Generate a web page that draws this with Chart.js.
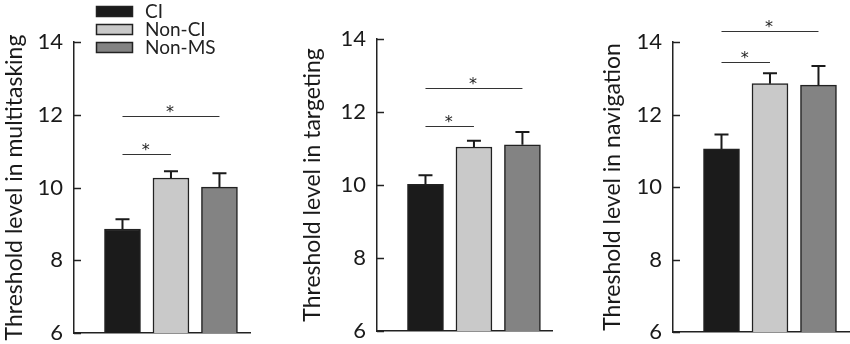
<!DOCTYPE html>
<html><head><meta charset="utf-8">
<script src="https://cdn.jsdelivr.net/npm/chart.js@4"></script>
<style>
html,body{margin:0;padding:0;background:#fff;}
#wrap{position:relative;width:850px;height:344px;overflow:hidden;background:#fff;}
canvas{position:absolute;top:0;}
</style></head><body>
<div id="wrap">
<canvas id="c1" width="290" height="344" style="left:0px"></canvas>
<canvas id="c2" width="280" height="344" style="left:290px"></canvas>
<canvas id="c3" width="280" height="344" style="left:570px"></canvas>
</div>
<script>
// ---- data ----
const groups = ['CI', 'Non-CI', 'Non-MS'];
const yTicks = [6, 8, 10, 12, 14];
const multitaskingMean = [8.86, 10.26, 10.01];
const multitaskingErr  = [0.27, 0.19, 0.38];
const targetingMean    = [10.02, 11.04, 11.10];
const targetingErr     = [0.25, 0.17, 0.35];
const navigationMean   = [11.05, 12.85, 12.81];
const navigationErr    = [0.40, 0.29, 0.53];
// significance brackets: [fromGroup, toGroup, level]
const multitaskingSig = [[0, 1, 10.92], [0, 2, 11.96]];
const targetingSig    = [[0, 1, 11.62], [0, 2, 12.66]];
const navigationSig   = [[0, 1, 13.45], [0, 2, 14.30]];

const barColors = ['#1b1b1b', '#c9c9c9', '#838383'];
const FONT = 'Lato, "Open Sans", sans-serif';

const extras = {
  id: 'extras',
  afterDatasetsDraw(chart, args, opts) {
    const ctx = chart.ctx;
    const xs = chart.scales.x, ys = chart.scales.y;
    const ca = chart.chartArea;
    ctx.save();
    // inward tick marks
    ctx.strokeStyle = '#222'; ctx.lineWidth = 1.5;
    yTicks.forEach(v => {
      const py = Math.round(ys.getPixelForValue(v)) + 0.5;
      ctx.beginPath(); ctx.moveTo(ca.left, py); ctx.lineTo(ca.left + 7, py); ctx.stroke();
    });
    // error bars
    ctx.strokeStyle = '#1a1a1a'; ctx.lineWidth = 2;
    opts.mean.forEach((m, i) => {
      const px = xs.getPixelForValue(i + 1);
      const y0 = ys.getPixelForValue(m);
      const y1 = ys.getPixelForValue(m + opts.err[i]);
      ctx.beginPath();
      ctx.moveTo(px, y0); ctx.lineTo(px, y1);
      ctx.moveTo(px - 7, y1); ctx.lineTo(px + 7, y1);
      ctx.stroke();
    });
    // significance lines
    ctx.strokeStyle = '#333'; ctx.lineWidth = 1.2;
    ctx.fillStyle = '#222';
    ctx.font = '16px "DejaVu Sans", sans-serif';
    ctx.textAlign = 'center'; ctx.textBaseline = 'alphabetic';
    opts.sig.forEach(s => {
      const a = xs.getPixelForValue(s[0] + 1), b = xs.getPixelForValue(s[1] + 1);
      const py = Math.round(ys.getPixelForValue(s[2])) + 0.5;
      ctx.beginPath(); ctx.moveTo(a, py); ctx.lineTo(b, py); ctx.stroke();
      ctx.fillText('*', (a + b) / 2 - 1, py);
    });
    // legend
    if (opts.legend) {
      ctx.font = '19px ' + FONT;
      ctx.textAlign = 'left'; ctx.textBaseline = 'middle';
      groups.forEach((g, i) => {
        const top = 6 + i * 18;
        ctx.fillStyle = barColors[i];
        ctx.fillRect(96, top, 37, 11);
        ctx.strokeStyle = '#222'; ctx.lineWidth = 1.5;
        ctx.strokeRect(96.5, top + 0.5, 36, 10);
        ctx.fillStyle = '#222';
        ctx.fillText(g, 145, top + 6);
      });
    }
    ctx.restore();
  }
};

function makeChart(id, title, mean, err, sig, pad, yWidth, xMax, legend) {
  return new Chart(document.getElementById(id), {
    type: 'bar',
    data: {
      datasets: [{
        data: mean.map((v, i) => ({ x: i + 1, y: v })),
        backgroundColor: barColors,
        borderColor: '#222',
        borderWidth: 1.5,
        borderSkipped: false,
        barThickness: 36
      }]
    },
    options: {
      responsive: false,
      animation: false,
      events: [],
      layout: { padding: pad },
      plugins: {
        legend: { display: false },
        tooltip: { enabled: false },
        extras: { mean, err, sig, legend }
      },
      scales: {
        x: {
          type: 'linear', min: 0, max: xMax, offset: false,
          grid: { display: false, drawTicks: false, offset: false },
          border: { display: true, color: '#222', width: 1.5 },
          ticks: { display: false },
          afterFit(s) { s.height = 0; }
        },
        y: {
          min: 6, max: 14,
          afterBuildTicks(s) { s.ticks = yTicks.map(v => ({ value: v })); },
          grid: { display: false, drawTicks: false },
          border: { display: true, color: '#222', width: 1.5 },
          ticks: { padding: 11, color: '#1a1a1a', font: { family: FONT, size: 22 } },
          title: { display: true, text: title, color: '#1a1a1a', padding: { top: 1, bottom: 0 },
                   font: { family: FONT, size: 23 } },
          afterFit(s) { s.width = yWidth; s.paddingTop = 0; s.paddingBottom = 0; }
        }
      }
    },
    plugins: [extras]
  });
}

makeChart('c1', 'Threshold level in multitasking', multitaskingMean, multitaskingErr, multitaskingSig,
  { left: 0, right: 40, top: 42, bottom: 11 }, 74, 3.63, true);
makeChart('c2', 'Threshold level in targeting', targetingMean, targetingErr, targetingSig,
  { left: 8, right: 18, top: 39, bottom: 13 }, 79, 3.61, false);
makeChart('c3', 'Threshold level in navigation', navigationMean, navigationErr, navigationSig,
  { left: 28, right: 0, top: 42, bottom: 12 }, 75, 3.65, false);
</script>
</body></html>
